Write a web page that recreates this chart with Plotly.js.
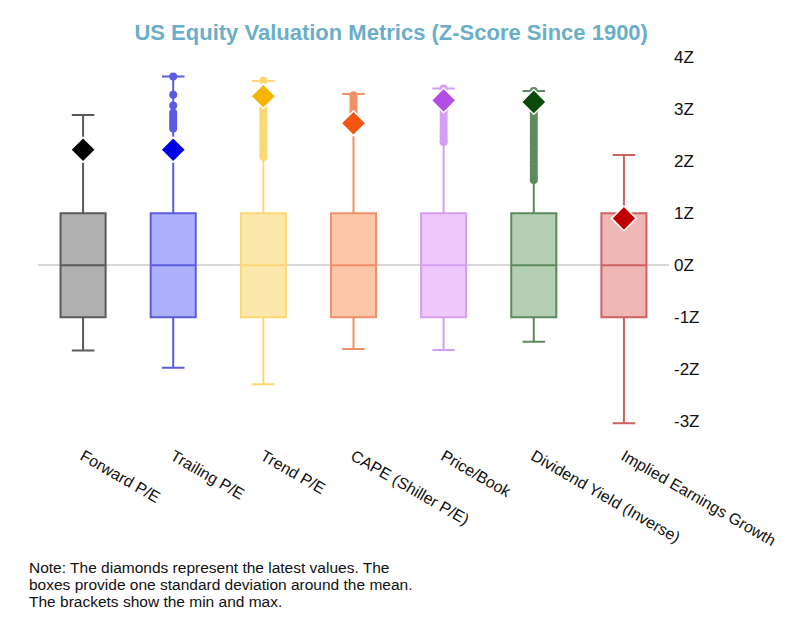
<!DOCTYPE html>
<html>
<head>
<meta charset="utf-8">
<script src="https://cdn.plot.ly/plotly-3.0.1.min.js"></script>
<style>html,body{margin:0;padding:0;background:#fff;}#chart{width:800px;height:620px;}</style>
</head>
<body>
<div id="chart"></div>
<script>
const categories = ['Forward P/E','Trailing P/E','Trend P/E','CAPE (Shiller P/E)','Price/Book','Dividend Yield (Inverse)','Implied Earnings Growth'];
const q1Values = [-1,-1,-1,-1,-1,-1,-1];
const medianValues = [0,0,0,0,0,0,0];
const q3Values = [1,1,1,1,1,1,1];
const minValues = [-1.64,-1.97,-2.29,-1.61,-1.63,-1.47,-3.04];
const maxValues = [2.89,3.63,3.54,3.29,3.40,3.35,2.12];
const latestValues = [2.22,2.22,3.25,2.73,3.17,3.14,0.90];

const forwardOutliers = [];
const trailingOutliers = [3.63,3.28,3.07,2.93,2.88,2.83,2.78,2.73,2.68,2.63];
const trendOutliers = [3.55,3.02,2.96,2.90,2.84,2.78,2.72,2.66,2.60,2.54,2.48,2.42,2.36,2.30,2.24,2.18,2.12,2.08];
const capeOutliers = [3.27,3.21,3.15,3.09,3.03,2.97,2.93];
const pbOutliers = [3.40,3.12,3.06,3.00,2.94,2.88,2.82,2.76,2.70,2.64,2.58,2.52,2.46,2.40,2.37];
const dyOutliers = [3.35,3.00,2.94,2.88,2.82,2.76,2.70,2.64,2.58,2.52,2.46,2.40,2.34,2.28,2.22,2.16,2.10,2.04,1.98,1.92,1.86,1.80,1.74,1.68,1.64];
const iegOutliers = [];
const outlierSets = [forwardOutliers,trailingOutliers,trendOutliers,capeOutliers,pbOutliers,dyOutliers,iegOutliers];

const yTickVals = [-3,-2,-1,0,1,2,3,4];
const yTickText = ['-3Z','-2Z','-1Z','0Z','1Z','2Z','3Z','4Z'];

const noteLines = [
  'Note: The diamonds represent the latest values. The',
  'boxes provide one standard deviation around the mean.',
  'The brackets show the min and max.'
];

const lineColors = ['#5a5a5a','#5c5ce0','#fbd775','#ee9068','#d59ef2','#5e8b5e','#cc6262'];
const fillColors = ['#b0b0b0','#aeb0fc','#fde8ac','#fdc6a8','#eec8fd','#b4cfb4','#efb6b6'];
const diamondColors = ['#000000','#0000e6','#f5b400','#f25510','#b44ce8','#0b4a0b','#c00000'];

const traces = [];
categories.forEach((c,i)=>{
  traces.push({
    type:'box', x:[c], q1:[q1Values[i]], median:[medianValues[i]], q3:[q3Values[i]],
    lowerfence:[minValues[i]], upperfence:[maxValues[i]],
    width:0.5, whiskerwidth:0.5,
    line:{color:lineColors[i], width:2}, fillcolor:fillColors[i],
    boxpoints:false, hoverinfo:'skip', showlegend:false
  });
});
categories.forEach((c,i)=>{
  const o = outlierSets[i];
  if(o.length){
    traces.push({
      type:'scatter', mode:'markers', x:o.map(()=>c), y:o,
      marker:{color:lineColors[i], size:8, line:{width:0}},
      hoverinfo:'skip', showlegend:false
    });
  }
});
traces.push({
  type:'scatter', mode:'markers', x:categories, y:latestValues,
  marker:{symbol:'diamond', size:19, color:diamondColors, line:{color:'#ffffff', width:1.5}},
  hoverinfo:'skip', showlegend:false
});

const FONT = 'Arial, "Liberation Sans", sans-serif';
const annotations = noteLines.map((t,k)=>({
  text:t, xref:'paper', yref:'paper', x:-0.017, y:(429-567.5-k*16.8)/377,
  xanchor:'left', yanchor:'middle', align:'left', showarrow:false,
  font:{size:15.5, color:'#111', family:FONT}
}));

const layout = {
  width:800, height:620,
  paper_bgcolor:'#ffffff', plot_bgcolor:'#ffffff',
  margin:{l:38, r:131, t:52, b:191},
  boxmode:'overlay',
  font:{family:FONT, color:'#222', size:14},
  title:{text:'<b>US Equity Valuation Metrics (Z-Score Since 1900)</b>', x:0.489, xanchor:'center', y:0.948, yanchor:'middle', font:{size:22, color:'#6aaec9', family:FONT}},
  xaxis:{type:'category', range:[-0.5,6.5], tickangle:30, showgrid:false, zeroline:false, showline:false, ticks:'', ticklabelstandoff:14, tickfont:{size:16, color:'#111'}},
  yaxis:{range:[-3.15,4.1], side:'right', tickvals:yTickVals, ticktext:yTickText, showgrid:false, zeroline:true, zerolinecolor:'#d8d8d8', zerolinewidth:1.5, showline:false, ticks:'', ticklabelstandoff:4, tickfont:{size:17, color:'#111'}},
  annotations:annotations
};
Plotly.newPlot('chart', traces, layout, {displayModeBar:false, staticPlot:true});
</script>
</body>
</html>
